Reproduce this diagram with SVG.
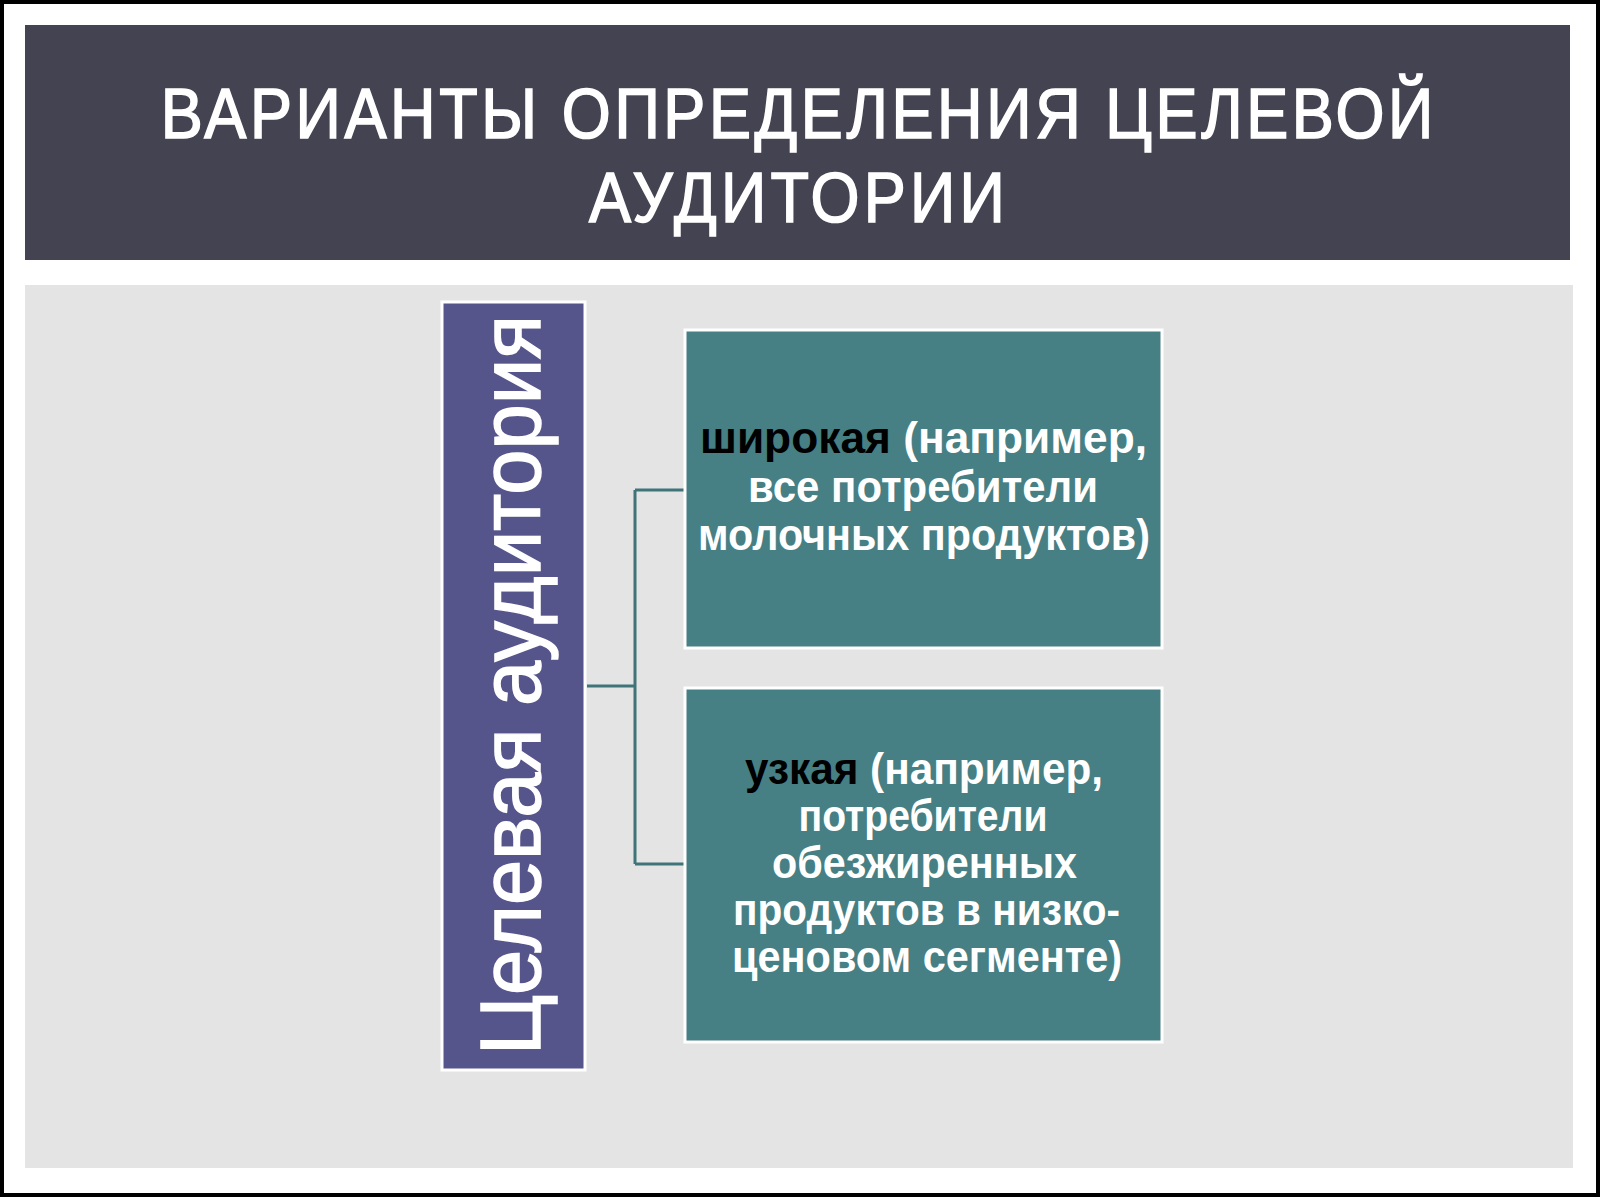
<svg xmlns="http://www.w3.org/2000/svg" width="1600" height="1199" viewBox="0 0 1600 1199">
<style>
.title{font-family:"Liberation Sans",Arial,sans-serif;font-size:70px;fill:#ffffff;stroke:#ffffff;stroke-width:1.6}
.vert{font-family:"Liberation Sans",Arial,sans-serif;font-size:86px;fill:#ffffff;stroke:#ffffff;stroke-width:1.5}
.lbl{font-family:"Liberation Sans",Arial,sans-serif;font-weight:bold;font-size:44px;fill:#ffffff}
.key{fill:#000000}
.teal{fill:#467f84;stroke:#ffffff;stroke-width:3}
.conn{fill:none;stroke:#3f7479;stroke-width:3}
</style>
<rect x="0" y="0" width="1600" height="1199" fill="#ffffff"/>
<rect x="2" y="2" width="1596" height="1193" fill="none" stroke="#000000" stroke-width="4"/>
<g id="header">
<rect x="25" y="25" width="1545" height="235" fill="#434352"/>
<g transform="translate(797,0) scale(0.9,1)">
<text class="title" x="0" y="138" text-anchor="middle" textLength="1414" lengthAdjust="spacing">ВАРИАНТЫ ОПРЕДЕЛЕНИЯ ЦЕЛЕВОЙ</text>
<text class="title" x="0" y="222" text-anchor="middle" textLength="462" lengthAdjust="spacing">АУДИТОРИИ</text>
</g>
</g>
<rect id="panel" x="25" y="285" width="1548" height="883" fill="#e4e4e4"/>
<g id="connectors">
<path class="conn" d="M587,686 H635 M635,490 V864 M635,490 H684 M635,864 H684"/>
</g>
<g id="root">
<rect x="442" y="302" width="143" height="768" fill="#55548b" stroke="#ffffff" stroke-width="3"/>
<text class="vert" transform="translate(540,685) rotate(-90)" x="0" y="0" text-anchor="middle" textLength="740" lengthAdjust="spacingAndGlyphs">Целевая аудитория</text>
</g>
<g id="wide">
<rect class="teal" x="685" y="330" width="477" height="318"/>
<text class="lbl" x="923.5" y="453" text-anchor="middle" textLength="447" lengthAdjust="spacingAndGlyphs"><tspan class="key">широкая</tspan> (например,</text>
<text class="lbl" x="923" y="502" text-anchor="middle" textLength="350" lengthAdjust="spacingAndGlyphs">все потребители</text>
<text class="lbl" x="924" y="550" text-anchor="middle" textLength="452" lengthAdjust="spacingAndGlyphs">молочных продуктов)</text>
</g>
<g id="narrow">
<rect class="teal" x="685" y="688" width="477" height="354"/>
<text class="lbl" x="924" y="784" text-anchor="middle" textLength="358" lengthAdjust="spacingAndGlyphs"><tspan class="key">узкая</tspan> (например,</text>
<text class="lbl" x="923" y="831" text-anchor="middle" textLength="249" lengthAdjust="spacingAndGlyphs">потребители</text>
<text class="lbl" x="924.5" y="878" text-anchor="middle" textLength="305" lengthAdjust="spacingAndGlyphs">обезжиренных</text>
<text class="lbl" x="926.5" y="925" text-anchor="middle" textLength="387" lengthAdjust="spacingAndGlyphs">продуктов в низко-</text>
<text class="lbl" x="927" y="972" text-anchor="middle" textLength="390" lengthAdjust="spacingAndGlyphs">ценовом сегменте)</text>
</g>
</svg>
